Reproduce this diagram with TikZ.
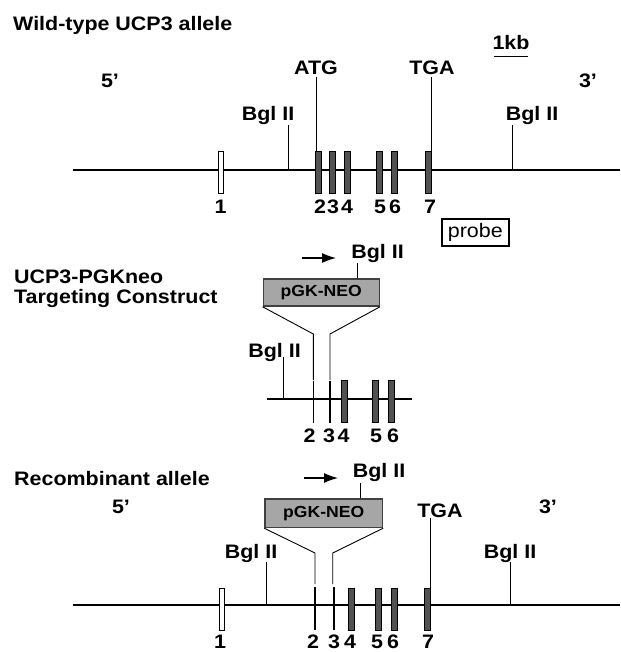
\documentclass[tikz,border=0pt]{standalone}
\usepackage{fontspec}
\setmainfont{Liberation Sans}[FakeStretch=1.1]
\usetikzlibrary{arrows.meta}
\begin{document}
\begin{tikzpicture}[x=1pt,y=-1pt,
  lbl/.style={font=\bfseries\fontsize{19.5}{22}\selectfont,inner sep=0pt,anchor=base},
  head/.style={lbl,anchor=base west},
  dna/.style={line width=1.8pt},
  site/.style={line width=0.9pt},
  exon/.style={draw=black,fill=black!68,line width=0.6pt},
  stub/.style={line width=1.5pt},
  neo/.style={draw=black!75,fill=black!35,line width=1.5pt,inner sep=0pt,
    font=\bfseries\fontsize{16}{18}\selectfont},
  dir/.style={-{Latex[length=14pt,width=10pt]},line width=1.2pt}]
\useasboundingbox[fill=white] (0,0) rectangle (620,652);
\node[head] (wt) at (13,31) {Wild-type UCP3 allele};
\node[lbl] (kb) at (511,50) {1kb};
\draw[site] (494,56) -- (528,56);
\node[lbl] (fiveA) at (110,88) {5’};
\node[lbl] (threeA) at (588,88) {3’};
\node[lbl] (atg) at (316,75) {ATG};
\node[lbl] (tgaA) at (432,75) {TGA};
\node[lbl] (bglA) at (268,121) {Bgl II};
\node[lbl] (bglB) at (532,121) {Bgl II};
\draw[dna] (73,170) -- (620,170);
\coordinate (sA) at (288,170);
\coordinate (sB) at (512,170);
\coordinate (eTwo) at (316.7,151);
\coordinate (eSeven) at (431,151);
\draw[site] (sA) -- (sA |- bglA.south);
\draw[site] (sB) -- (sB |- bglB.south);
\draw[site,shorten >=2pt] (eTwo) -- (eTwo |- atg.south);
\draw[site,shorten >=2pt] (eSeven) -- (eSeven |- tgaA.south);
\draw[exon,fill=white] (218,151) rectangle (223.3,193);
\foreach \x in {318.7,332,347.3,378.8,394.7,428.3}
  \draw[exon] (\x-3,151) rectangle (\x+3,193);
\foreach \x/\n in {220.5/1,320/2,333/3,347/4,380/5,395/6,430/7}
  \node[lbl] (tn\n) at (\x,213) {\n};
\node[draw,line width=2.4pt,inner sep=0pt,minimum width=67pt,minimum height=26.5pt,
  font=\fontsize{19.5}{22}\selectfont] (probe) at (475.3,232.5) {probe};

\node[head] (ucp) at (14,283) {UCP3-PGKneo};
\node[head] (tc) at (14,303) {Targeting Construct};
\coordinate (aA) at (302,258);
\coordinate (aB) at (336,258);
\draw[dir] (aA) -- (aB);
\node[lbl] (bglC) at (377.5,258) {Bgl II};
\node[neo,minimum width=116pt,minimum height=27pt] (neoA) at (321.3,292.5) {pGK-NEO};
\coordinate (sC) at (357.5,263);
\draw[site] (sC) -- (sC |- neoA.north);
\draw[site] (neoA.south west) -- (313.3,334) -- (313.3,380);
\draw[site] (neoA.south east) -- (330,334) -- (330,380);
\draw[dna] (267,399) -- (412,399);
\node[lbl] (bglD) at (274.5,357) {Bgl II};
\coordinate (sD) at (283.3,399);
\draw[site] (sD) -- (sD |- bglD.base);
\foreach \x in {313.3,330}
  \draw[stub] (\x,380.7) -- (\x,422.7);
\foreach \x in {344,375.5,391.2}
  \draw[exon] (\x-3,380.7) rectangle (\x+3,422.7);
\foreach \x/\n in {309.5/2,329/3,343.5/4,376/5,393/6}
  \node[lbl] (mn\n) at (\x,442) {\n};

\node[head] (rec) at (14,485) {Recombinant allele};
\coordinate (aC) at (304,478);
\coordinate (aD) at (338,478);
\draw[dir] (aC) -- (aD);
\node[lbl] (bglE) at (379,477) {Bgl II};
\node[lbl] (fiveB) at (121,513) {5’};
\node[lbl] (threeB) at (548,513) {3’};
\node[lbl] (tgaB) at (440,517) {TGA};
\node[neo,minimum width=117.5pt,minimum height=28.5pt] (neoB) at (323.7,513.2) {pGK-NEO};
\coordinate (sE) at (360,483);
\draw[site] (sE) -- (sE |- neoB.north);
\draw[site] (neoB.south west) -- (315,553) -- (315,584);
\draw[site] (neoB.south east) -- (332.7,553) -- (332.7,584);
\node[lbl] (bglF) at (251,558) {Bgl II};
\node[lbl] (bglG) at (510,558) {Bgl II};
\draw[dna] (73,605) -- (620,605);
\coordinate (sF) at (266,605);
\coordinate (sG) at (510,605);
\coordinate (eSevenB) at (430,588);
\draw[site] (sF) -- (sF |- bglF.south);
\draw[site] (sG) -- (sG |- bglG.south);
\draw[site,shorten >=1pt] (eSevenB) -- (eSevenB |- tgaB.south);
\draw[exon,fill=white] (219,588) rectangle (224.3,630);
\foreach \x in {315,334}
  \draw[stub] (\x,587) -- (\x,630);
\foreach \x in {351,377.8,394,427.5}
  \draw[exon] (\x-3,588) rectangle (\x+3,630);
\foreach \x/\n in {220/1,313/2,334/3,350/4,377/5,393/6,428/7}
  \node[lbl] (bn\n) at (\x,648) {\n};
\end{tikzpicture}
\end{document}
